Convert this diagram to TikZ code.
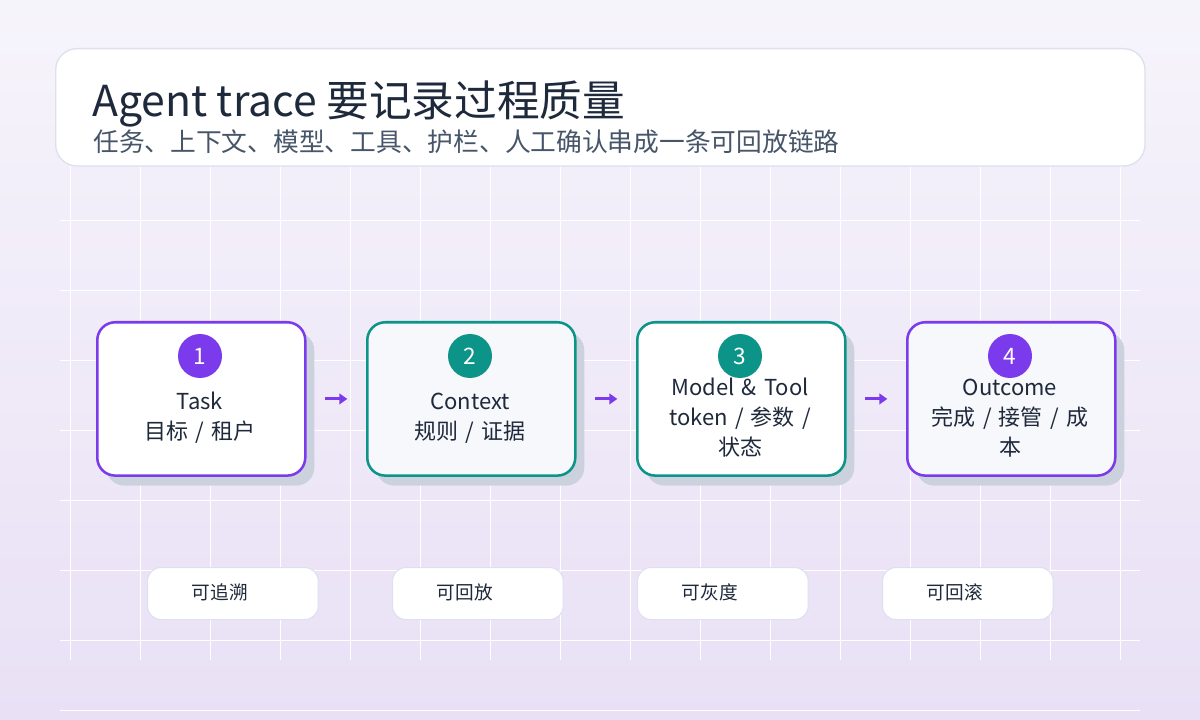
\documentclass[tikz,border=0pt]{standalone}
\usepackage{fontspec}
\setmainfont{Noto Sans CJK SC}
\usetikzlibrary{arrows.meta}
\definecolor{pur}{HTML}{7C3AED}
\definecolor{teal}{HTML}{0D9488}
\definecolor{ink}{HTML}{1E293B}
\definecolor{sub}{HTML}{475569}
\definecolor{shad}{HTML}{CBD2DE}
\definecolor{bdr}{HTML}{DDE0EE}
\definecolor{bgt}{HTML}{F6F4FB}
\definecolor{bgb}{HTML}{E9E0F5}
\definecolor{soft}{HTML}{F7F8FB}
\tikzset{
 card/.style={rounded corners=13.5pt,line width=1.9pt,minimum width=156pt,minimum height=115pt,anchor=north west},
 shadowbox/.style={rounded corners=13.5pt,fill=shad,minimum width=156pt,minimum height=115pt,anchor=north west},
 num/.style={circle,minimum size=33pt,inner sep=0pt,text=white,font=\fontsize{17}{20}\selectfont},
 lbl/.style={text=ink,align=center,font=\fontsize{16.5}{22.5}\selectfont,text width=150pt},
 pill/.style={rounded corners=10pt,fill=white,draw=bdr,line width=0.8pt,minimum width=128pt,minimum height=39pt,anchor=north west},
 flow/.style={-{Triangle[length=6pt,width=8pt]},line width=2.2pt,pur}
}
\begin{document}
\begin{tikzpicture}[x=0.75pt,y=-0.75pt]
\useasboundingbox (0,0) rectangle (1200,720);
\shade[top color=bgt,bottom color=bgb] (0,0) rectangle (1200,720);
\foreach \x in {70,140,...,1130} \draw[white,line width=0.6pt] (\x,165)--(\x,660);
\foreach \y in {220,290,...,640} \draw[white,line width=0.6pt] (60,\y)--(1140,\y);
\draw[white,line width=0.6pt] (60,710)--(1140,710);
\node[rounded corners=16pt,fill=white,draw=bdr,line width=1pt,minimum width=817pt,minimum height=88pt,anchor=north west] (hdr) at (55,48) {};
\node[anchor=base west,inner sep=0pt,text=ink,font=\fontsize{32}{36}\selectfont] (title) at (92,117) {Agent trace 要记录过程质量};
\node[anchor=base west,inner sep=0pt,text=sub,font=\fontsize{19.3}{22}\selectfont] (subt) at (93,152) {任务、上下文、模型、工具、护栏、人工确认串成一条可回放链路};
\foreach \i/\x/\c/\f in {1/96/pur/white,2/366/teal/soft,3/636/teal/white,4/906/pur/soft}{
 \node[shadowbox] (s\i) at (\x+10,332) {};
 \node[card,draw=\c,fill=\f] (b\i) at (\x,321) {};
 \node[num,fill=\c] (n\i) at (\x+104,356) {\i};
}
\node[lbl] (t1) at (200,418) {Task\\目标 / 租户};
\node[lbl] (t2) at (470,418) {Context\\规则 / 证据};
\node[lbl] (t3) at (740,418) {Model \& Tool\\token / 参数 /\\状态};
\node[lbl] (t4) at (1010,418) {Outcome\\完成 / 接管 / 成\\本};
\foreach \a/\b in {1/2,2/3,3/4} \draw[flow] ([xshift=14pt,yshift=0pt]b\a.east) -- ([xshift=-14pt,yshift=0pt]b\b.west);
\foreach \i/\x/\t in {1/147/可追溯,2/392/可回放,3/637/可灰度,4/882/可回滚}{
 \node[pill] (p\i) at (\x,567) {};
 \node[anchor=west,text=ink,font=\fontsize{14}{16}\selectfont] (q\i) at (\x+40,592) {\t};
}
\end{tikzpicture}
\end{document}
